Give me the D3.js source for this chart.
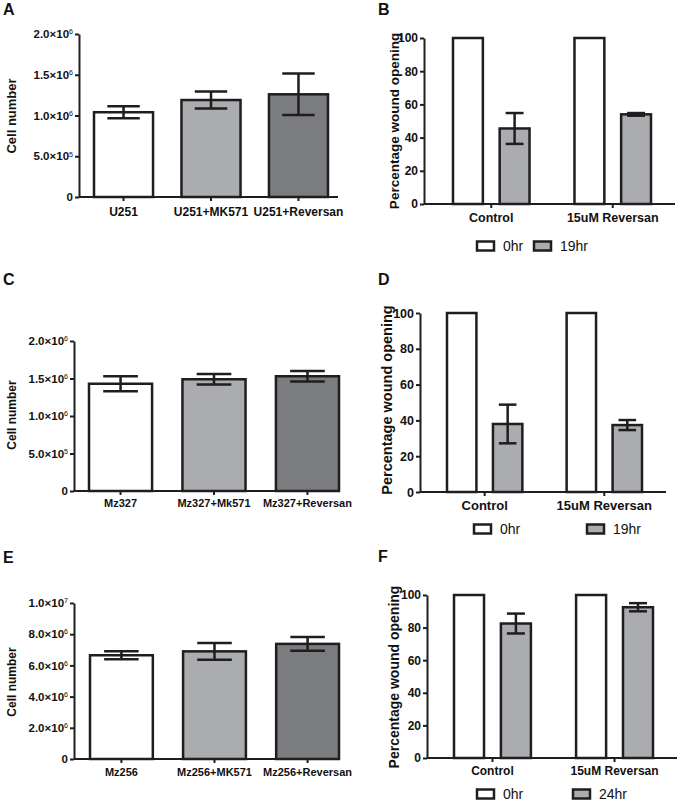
<!DOCTYPE html>
<html>
<head>
<meta charset="utf-8">
<script src="https://cdn.jsdelivr.net/npm/d3@7"></script>
<style>
  html, body { margin: 0; padding: 0; background: #fff; }
  svg { display: block; font-family: "Liberation Sans", Arial, sans-serif; }
</style>
</head>
<body>
<svg id="chart" width="680" height="803"></svg>
<script>
// ---------- DATA ----------
// Panel A
const catsA = ["U251", "U251+MK571", "U251+Reversan"];
const meansA = [1.04e6, 1.19e6, 1.26e6];
const errsA = [0.075e6, 0.105e6, 0.255e6];
const ticksA = [0, 5e5, 1e6, 1.5e6, 2e6];
// Panel C
const catsC = ["Mz327", "Mz327+Mk571", "Mz327+Reversan"];
const meansC = [1.43e6, 1.49e6, 1.53e6];
const errsC = [0.10e6, 0.07e6, 0.07e6];
const ticksC = [0, 5e5, 1e6, 1.5e6, 2e6];
// Panel E
const catsE = ["Mz256", "Mz256+MK571", "Mz256+Reversan"];
const meansE = [6.65e6, 6.90e6, 7.38e6];
const errsE = [0.25e6, 0.53e6, 0.44e6];
const ticksE = [0, 2e6, 4e6, 6e6, 8e6, 1e7];

// Wound panels
const woundGroups = ["Control", "15uM Reversan"];
const woundTicks = [0, 20, 40, 60, 80, 100];
// Panel B
const seriesB = ["0hr", "19hr"];
const zeroB = [100, 100];
const laterB = [45.5, 54.0];
const laterErrB = [9.3, 0.8];
// Panel D
const seriesD = ["0hr", "19hr"];
const zeroD = [100, 100];
const laterD = [38.0, 37.4];
const laterErrD = [10.8, 2.8];
// Panel F
const seriesF = ["0hr", "24hr"];
const zeroF = [100, 100];
const laterF = [82.5, 92.5];
const laterErrF = [6.1, 2.5];

// ---------- STYLE ----------
const INK = "#1e1e1e";
const cellFills = ["#ffffff", "#abacb0", "#7b7c80"];
const woundFills = ["#ffffff", "#abacb0"];

const svg = d3.select("#chart");

function sciLabel(textSel, v) {
  textSel.text(null);
  if (v === 0) { textSel.text("0"); return; }
  const e = Math.floor(Math.log10(v) + 1e-9);
  const m = v / Math.pow(10, e);
  textSel.append("tspan").text(m.toFixed(1) + "\u00d710");
  textSel.append("tspan").attr("dy", "-0.55em").attr("font-size", "0.62em")
    .attr("font-weight", "normal").text(String(e));
}

function panelLetter(x, y, t) {
  svg.append("text").attr("x", x).attr("y", y).attr("font-weight", "bold")
    .attr("font-size", 16).attr("fill", "#111").text(t);
}

function yTitle(x, y, t, size) {
  svg.append("text").attr("transform", `translate(${x},${y}) rotate(-90)`)
    .attr("text-anchor", "middle").attr("font-weight", "bold")
    .attr("font-size", size).attr("fill", "#111").text(t);
}

function styleAxis(g, fs) {
  g.select(".domain").attr("stroke", INK).attr("stroke-width", 2);
  g.selectAll(".tick line").attr("stroke", INK).attr("stroke-width", 2);
  g.selectAll(".tick text").attr("font-weight", "bold").attr("font-size", fs)
    .attr("fill", "#111").attr("font-family", "Liberation Sans, Arial, sans-serif");
}

function errorBar(g, cx, y, v, e, capW) {
  g.append("line").attr("x1", cx).attr("x2", cx).attr("y1", y(v + e)).attr("y2", y(v - e))
    .attr("stroke", INK).attr("stroke-width", 2.5);
  [v + e, v - e].forEach(t => {
    g.append("line").attr("x1", cx - capW / 2).attr("x2", cx + capW / 2)
      .attr("y1", y(t)).attr("y2", y(t)).attr("stroke", INK).attr("stroke-width", 2.5);
  });
}

// ---------- CELL NUMBER PANELS ----------
function cellPanel(cfg) {
  const { cats, means, errs, ticks, axisX, axisEnd, y0, y1, barRange, fs, catFs, labelY } = cfg;
  const g = svg.append("g");
  const y = d3.scaleLinear().domain([0, ticks[ticks.length - 1]]).range([y0, y1]);
  const x = d3.scaleBand().domain(cats).range(barRange).paddingInner(0.325).paddingOuter(0);

  g.selectAll("rect.bar").data(cats).join("rect").attr("class", "bar")
    .attr("x", d => x(d)).attr("width", x.bandwidth())
    .attr("y", (d, i) => y(means[i])).attr("height", (d, i) => y(0) - y(means[i]))
    .attr("fill", (d, i) => cellFills[i]).attr("stroke", INK).attr("stroke-width", 2.5);

  cats.forEach((c, i) => errorBar(g, x(c) + x.bandwidth() / 2, y, means[i], errs[i], x.bandwidth() * 0.55));

  const ya = g.append("g").attr("transform", `translate(${axisX},0)`)
    .call(d3.axisLeft(y).tickValues(ticks).tickSize(4).tickSizeOuter(0).tickPadding(2));
  styleAxis(ya, fs);
  ya.selectAll(".tick text").each(function (d) { sciLabel(d3.select(this), d); });

  g.append("line").attr("x1", axisX).attr("x2", axisEnd).attr("y1", y0).attr("y2", y0)
    .attr("stroke", INK).attr("stroke-width", 2);
  cats.forEach(c => {
    const cx = x(c) + x.bandwidth() / 2;
    g.append("line").attr("x1", cx).attr("x2", cx).attr("y1", y0).attr("y2", y0 + 4)
      .attr("stroke", INK).attr("stroke-width", 2);
    g.append("text").attr("x", cx).attr("y", labelY).attr("text-anchor", "middle")
      .attr("font-weight", "bold").attr("font-size", catFs).attr("fill", "#111").text(c);
  });
}

// ---------- WOUND PANELS ----------
function woundPanel(cfg) {
  const { series, zero, later, laterErr, axisX, axisEnd, y0, y1, groupRange, catFs, labelY, legendY, legendX, tickFs } = cfg;
  const g = svg.append("g");
  const y = d3.scaleLinear().domain([0, 100]).range([y0, y1]);
  const x = d3.scaleBand().domain(woundGroups).range(groupRange).paddingInner(0.37).paddingOuter(0);
  const xi = d3.scaleBand().domain(series).range([0, x.bandwidth()]).paddingInner(0.36).paddingOuter(0);
  const vals = [zero, later];

  woundGroups.forEach((grp, gi) => {
    series.forEach((s, si) => {
      g.append("rect").attr("x", x(grp) + xi(s)).attr("width", xi.bandwidth())
        .attr("y", y(vals[si][gi])).attr("height", y(0) - y(vals[si][gi]))
        .attr("fill", woundFills[si]).attr("stroke", INK).attr("stroke-width", 2.5);
    });
    errorBar(g, x(grp) + xi(series[1]) + xi.bandwidth() / 2, y, later[gi], laterErr[gi], xi.bandwidth() * 0.6);
  });

  const ya = g.append("g").attr("transform", `translate(${axisX},0)`)
    .call(d3.axisLeft(y).tickValues(woundTicks).tickSize(4).tickSizeOuter(0).tickPadding(2));
  styleAxis(ya, tickFs);

  g.append("line").attr("x1", axisX).attr("x2", axisEnd).attr("y1", y0).attr("y2", y0)
    .attr("stroke", INK).attr("stroke-width", 2);
  woundGroups.forEach(grp => {
    const cx = x(grp) + x.bandwidth() / 2;
    g.append("line").attr("x1", cx).attr("x2", cx).attr("y1", y0).attr("y2", y0 + 4)
      .attr("stroke", INK).attr("stroke-width", 2);
    g.append("text").attr("x", cx).attr("y", labelY).attr("text-anchor", "middle")
      .attr("font-weight", "bold").attr("font-size", catFs).attr("fill", "#111").text(grp);
  });

  series.forEach((s, si) => {
    const lx = legendX[si];
    g.append("rect").attr("x", lx).attr("y", legendY - 4.5).attr("width", 17).attr("height", 9)
      .attr("fill", woundFills[si]).attr("stroke", INK).attr("stroke-width", 2.5);
    g.append("text").attr("x", lx + 26).attr("y", legendY + 5).attr("font-size", 14)
      .attr("fill", "#111").text(s);
  });
}

// Panel A
panelLetter(3, 15, "A");
yTitle(16, 116, "Cell number", 13);
cellPanel({ cats: catsA, means: meansA, errs: errsA, ticks: ticksA, axisX: 79, axisEnd: 338,
  y0: 197, y1: 34, barRange: [94, 328], fs: 11.5, catFs: 12, labelY: 216 });

// Panel C
panelLetter(3, 285, "C");
yTitle(16, 415, "Cell number", 12);
cellPanel({ cats: catsC, means: meansC, errs: errsC, ticks: ticksC, axisX: 74, axisEnd: 339,
  y0: 491, y1: 341, barRange: [89, 339], fs: 11.5, catFs: 11, labelY: 507 });

// Panel E
panelLetter(3, 563, "E");
yTitle(16, 682, "Cell number", 12);
cellPanel({ cats: catsE, means: meansE, errs: errsE, ticks: ticksE, axisX: 74, axisEnd: 339,
  y0: 759, y1: 603, barRange: [90, 339], fs: 11.5, catFs: 11, labelY: 776 });

// Panel B
panelLetter(378, 15, "B");
yTitle(399, 121, "Percentage wound opening", 13.5);
woundPanel({ series: seriesB, zero: zeroB, later: laterB, laterErr: laterErrB, axisX: 424, axisEnd: 675,
  y0: 204, y1: 38, groupRange: [453, 651], tickFs: 12, catFs: 12.5, labelY: 222, legendY: 246, legendX: [477, 534] });

// Panel D
panelLetter(378, 285, "D");
yTitle(392, 400, "Percentage wound opening", 14.5);
woundPanel({ series: seriesD, zero: zeroD, later: laterD, laterErr: laterErrD, axisX: 420, axisEnd: 666,
  y0: 492, y1: 313, groupRange: [447, 642], tickFs: 12.5, catFs: 13, labelY: 510, legendY: 529, legendX: [474, 587] });

// Panel F
panelLetter(378, 562, "F");
yTitle(399, 677, "Percentage wound opening", 14);
woundPanel({ series: seriesF, zero: zeroF, later: laterF, laterErr: laterErrF, axisX: 427, axisEnd: 677,
  y0: 758, y1: 595, groupRange: [454, 653], tickFs: 12, catFs: 12, labelY: 775, legendY: 794, legendX: [477, 573] });
</script>
</body>
</html>
